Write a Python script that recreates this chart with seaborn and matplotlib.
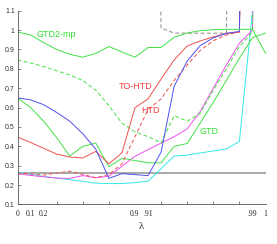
import numpy as np
import pandas as pd
import matplotlib
matplotlib.use("Agg")
import matplotlib.pyplot as plt
import seaborn as sns

# lambda values, one per position on the x axis
lam = [0, .1, .2, .3, .4, .5, .6, .7, .8, .9,
       .91, .92, .93, .94, .95, .96, .97, .98, .99, 1]
lam_labels = {0: "0", 1: "0.1", 2: "0.2", 9: "0.9", 10: ".91", 18: ".99", 19: "1"}

OFF = 5.0  # values far above the plotted range (drawn off the top)

gtd2mp = [0.99, 0.975, 0.935, 0.90, 0.875, 0.86, 0.88, 0.915, 0.887, 0.86,
          0.91, 0.91, 0.963, 0.985, 0.997, 1.002, 1.004, 1.004, 1.004, 0.88]
gtd2_dash = [0.846, 0.83, 0.812, 0.79, 0.768, 0.74, 0.69, 0.61, 0.52, 0.475,
             0.45, 0.418, 0.558, 0.53, 0.57, 0.69, 0.80, 0.915, 0.99, OFF]
blue = [0.65, 0.64, 0.615, 0.575, 0.53, 0.465, 0.385, 0.235, 0.259, 0.254,
        0.249, 0.37, 0.71, 0.84, 0.92, 0.96, 0.983, 0.993, OFF, OFF]
gtd = [0.65, 0.60, 0.53, 0.445, 0.35, 0.40, 0.417, 0.295, 0.338, 0.327,
       0.315, 0.315, 0.40, 0.415, 0.52, 0.627, 0.74, 0.855, 0.96, 0.985]
to_htd = [0.448, 0.42, 0.39, 0.36, 0.345, 0.34, 0.374, 0.31, 0.366, 0.60,
          0.645, 0.747, 0.846, 0.918, 0.944, 0.965, 0.983, 0.99, OFF, OFF]
htd = [0.262, 0.258, 0.252, 0.262, 0.272, 0.255, 0.238, 0.255, 0.31, 0.45,
       0.59, 0.645, 0.74, 0.82, 0.895, 0.945, 0.975, 0.99, OFF, OFF]
magenta = [0.258, 0.25, 0.243, 0.236, 0.235, 0.249, 0.238, 0.246, 0.297, 0.349,
           0.383, 0.417, 0.45, 0.49, 0.58, 0.70, 0.82, 0.932, 1.0, OFF]
cyan = [0.266, 0.255, 0.245, 0.236, 0.228, 0.22, 0.21, 0.208, 0.208, 0.213,
        0.22, 0.285, 0.35, 0.355, 0.366, 0.376, 0.387, 0.425, 1.10, OFF]
gray_dash = [OFF] * 11 + [1.01, 0.985, 0.984, 0.984, 0.984, 0.984, OFF, OFF, OFF]
baseline = [0.263] * 20

pos = np.arange(len(lam))

sns.set_theme(style="ticks")
plt.rcParams["font.family"] = ["Liberation Sans", "DejaVu Sans"]

fig = plt.figure(figsize=(2.77, 2.44), dpi=100)
ax = fig.add_axes([0.0632, 0.1619, 0.8953, 0.7943])

series = [
    (baseline, "#9a9a9a", "-", 1.2),
    (gray_dash, "#8a8a8a", (0, (4, 2.5)), 0.7),
    (cyan, "#33e8e8", "-", 0.7),
    (magenta, "#f050f0", "-", 0.7),
    (gtd, "#44e044", "-", 0.7),
    (gtd2_dash, "#44e044", (0, (4, 2.5)), 0.7),
    (htd, "#f05050", (0, (4, 2.5)), 0.7),
    (to_htd, "#f05050", "-", 0.7),
    (blue, "#5050ee", "-", 0.7),
    (gtd2mp, "#44e044", "-", 0.7),
]
for vals, col, ls, lw in series:
    df = pd.DataFrame({"pos": pos, "val": vals})
    sns.lineplot(data=df, x="pos", y="val", color=col, linestyle=ls,
                 linewidth=lw, ax=ax, legend=False)

ax.set_xlim(0, 19)
ax.set_ylim(0.1, 1.1)

# labelled positions (no marks) + tick marks at every other position
ax.set_xticks(list(lam_labels.keys()))
ax.set_xticklabels(list(lam_labels.values()), family="Liberation Serif", fontsize=5.5)
ax.set_xticks(pos[1::2], minor=True)
ax.tick_params(axis="x", which="major", length=0, pad=4)
ax.tick_params(axis="x", which="minor", direction="in", length=2, width=0.5, color="#555555")

yt = np.round(np.arange(0.1, 1.11, 0.1), 1)
ax.set_yticks(yt)
ax.set_yticklabels([f"{v:g}" for v in yt], fontsize=5, color="#333333")
ax.tick_params(axis="y", direction="in", length=2, width=0.5, pad=2, color="#555555")

ax.set_xlabel("λ", family="Liberation Serif", fontsize=8, labelpad=3)
ax.set_ylabel("")

sns.despine(ax=ax)
for s in ["left", "bottom"]:
    ax.spines[s].set_color("#555555")
    ax.spines[s].set_linewidth(0.6)

ax.text(2.99, 0.977, "GTD2-mp", color="#33dd33", fontsize=6.5, ha="center", va="center")
ax.text(9.02, 0.707, "TO-HTD", color="#f04040", fontsize=6.5, ha="center", va="center")
ax.text(10.17, 0.584, "HTD", color="#f04040", fontsize=6.5, ha="center", va="center")
ax.text(14.7, 0.477, "GTD", color="#33dd33", fontsize=6.5, ha="center", va="center")

fig.savefig("out.png", dpi=100)
